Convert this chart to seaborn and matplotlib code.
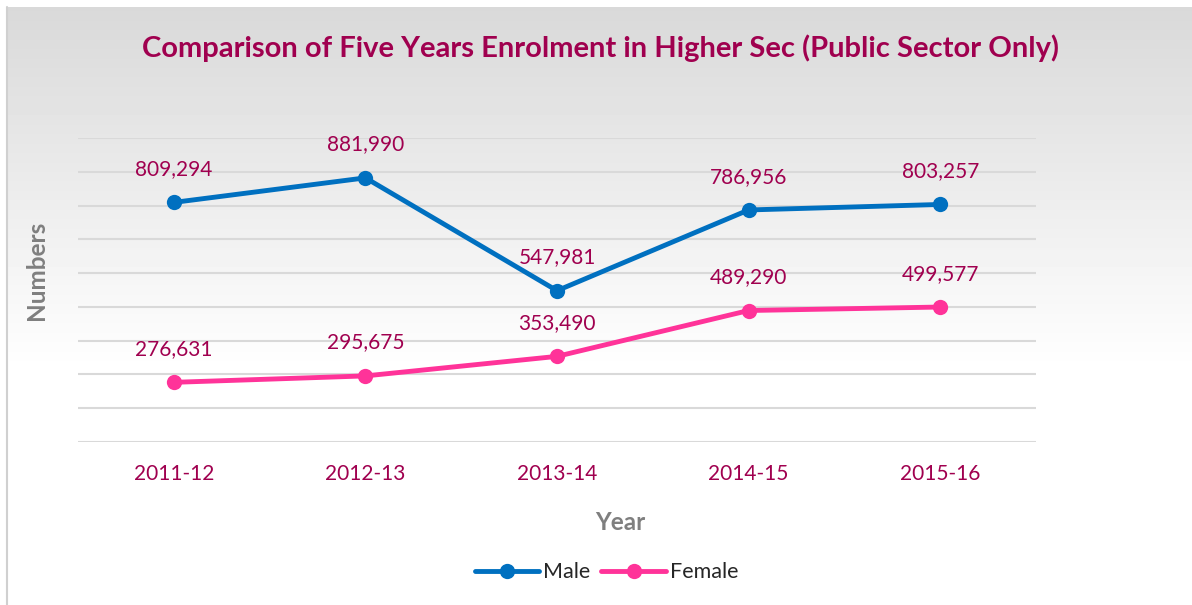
import numpy as np
import pandas as pd
import matplotlib.pyplot as plt
import seaborn as sns

# Chart data
years = ['2011-12', '2012-13', '2013-14', '2014-15', '2015-16']
male = [809294, 881990, 547981, 786956, 803257]
female = [276631, 295675, 353490, 489290, 499577]
grid_ticks = list(range(100000, 1000001, 100000))

df = pd.DataFrame({
    'Year': years * 2,
    'Numbers': male + female,
    'Gender': ['Male'] * len(years) + ['Female'] * len(years),
})

sns.set_style('white')
plt.rcParams['font.family'] = ['Lato', 'DejaVu Sans']

W, H = 1192, 605
fig = plt.figure(figsize=(W / 100, H / 100), dpi=100)

# Grey-to-white background gradient behind the chart
grad = np.ones((H, W))
top, fade_end = 7, 370
rows = np.arange(H)
shade = np.clip((rows - top) / (fade_end - top), 0, 1)
grad[:] = (0.85 + 0.15 * shade)[:, None]
grad[:top, :] = 1.0
grad[:, :top] = 1.0
bg = fig.add_axes([0, 0, 1, 1], zorder=0)
bg.imshow(grad, cmap='gray', vmin=0, vmax=1, aspect='auto', extent=(0, W, H, 0))
bg.plot([top, top], [top, H], color='#d0d0d0', lw=1.5)
bg.set_xlim(0, W)
bg.set_ylim(H, 0)
bg.axis('off')

ax = fig.add_axes([78 / W, 1 - 442 / H, (1036 - 78) / W, (442 - 138) / H], zorder=1)
ax.patch.set_alpha(0)

text_color = '#A0004F'
colors = {'Male': '#0070C0', 'Female': '#FF3399'}

sns.lineplot(data=df, x='Year', y='Numbers', hue='Gender', palette=colors,
             marker='o', markersize=11, markeredgewidth=0, linewidth=3.5,
             sort=False, ax=ax)

# Data labels above each point
for series in (male, female):
    for i, v in enumerate(series):
        ax.annotate(f'{v:,}', (i, v), xytext=(0, 24), textcoords='offset points',
                    ha='center', va='center', fontsize=15, color=text_color)

ax.set_xlim(-0.5, len(years) - 0.5)
ax.set_ylim(grid_ticks[0], grid_ticks[-1])
ax.set_yticks(grid_ticks)
ax.yaxis.grid(True, color='#d9d9d9', lw=1.5)
ax.set_axisbelow(True)
for s in ax.spines.values():
    s.set_visible(False)
ax.tick_params(left=False, bottom=False, labelleft=False, pad=12)
for lbl in ax.get_xticklabels():
    lbl.set_color(text_color)
    lbl.set_fontsize(15)

ax.set_xlabel('Year', fontsize=17.5, fontweight='bold', color='#7f7f7f')
ax.set_ylabel('Numbers', fontsize=17.5, fontweight='bold', color='#7f7f7f')
ax.xaxis.set_label_coords(0.566, -0.266)
ax.yaxis.set_label_coords(-0.043, 0.566)
ax.xaxis.label.set_va('center')
ax.yaxis.label.set_va('center')

ax.get_legend().remove()
handles, labels = ax.get_legend_handles_labels()
fig.legend(handles, labels, loc='center', bbox_to_anchor=(0.509, 0.054), ncol=2,
           frameon=False, fontsize=15.5, handlelength=3, columnspacing=0.5,
           handletextpad=0.2)

fig.text(0.504, 0.921, 'Comparison of Five Years Enrolment in Higher Sec (Public Sector Only)',
         ha='center', va='center', fontsize=21, fontweight='bold', color=text_color)

fig.savefig('out.png', dpi=100)
